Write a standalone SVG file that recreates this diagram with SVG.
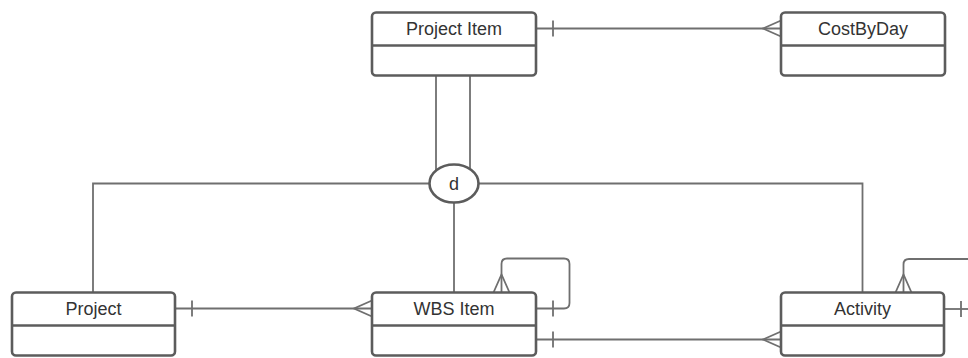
<svg xmlns="http://www.w3.org/2000/svg" width="968" height="358" viewBox="0 0 968 358">
  <style>
    .box { fill: #ffffff; stroke: #5c5c5c; stroke-width: 2.6; }
    .div { stroke: #5c5c5c; stroke-width: 2.6; }
    .conn { fill: none; stroke: #6f6f6f; stroke-width: 1.8; }
    .mk { fill: none; stroke: #6f6f6f; stroke-width: 1.8; }
    .lbl { font-family: "Liberation Sans", Arial, sans-serif; font-size: 18px; fill: #333333; text-anchor: middle; }
  </style>
  <defs>
    <!-- crow's foot (many); origin is at the entity edge, line interior lies on negative x -->
    <marker id="many" markerUnits="userSpaceOnUse" markerWidth="40" markerHeight="40" viewBox="-20 -20 40 40" refX="0" refY="0" orient="auto-start-reverse" overflow="visible">
      <path class="mk" d="M0 -8 L-18 0 L0 8"/>
    </marker>
    <!-- single bar (one) -->
    <marker id="one" markerUnits="userSpaceOnUse" markerWidth="40" markerHeight="40" viewBox="-20 -20 40 40" refX="0" refY="0" orient="auto-start-reverse" overflow="visible">
      <path class="mk" d="M-17 -8 V8"/>
    </marker>
  </defs>

  <g id="connectors">
    <!-- Project Item to CostByDay -->
    <path class="conn" d="M536 28.5 H781" marker-start="url(#one)" marker-end="url(#many)"/>
    <!-- Project Item down to disjoint subtype circle (double line) -->
    <path class="conn" d="M436 76 V183"/>
    <path class="conn" d="M470 76 V183"/>
    <!-- subtype branches -->
    <path class="conn" d="M93 293 V183.5 H862.5 V293"/>
    <path class="conn" d="M454 183.5 V293"/>
    <!-- Project to WBS Item -->
    <path class="conn" d="M175 308.5 H372" marker-start="url(#one)" marker-end="url(#many)"/>
    <!-- WBS Item recursive relationship -->
    <path class="conn" d="M536 308.5 H564 Q569.5 308.5 569.5 303 V264 Q569.5 258.5 564 258.5 H507 Q501.5 258.5 501.5 264 V292.5" marker-start="url(#one)" marker-end="url(#many)"/>
    <!-- WBS Item to Activity -->
    <path class="conn" d="M536 339.5 H781" marker-start="url(#one)" marker-end="url(#many)"/>
    <!-- Activity outgoing relationships -->
    <path class="conn" d="M903.5 292.5 V264.5 Q903.5 259 909 259 H968" marker-start="url(#many)"/>
    <path class="conn" d="M944 309 H968" marker-start="url(#one)"/>
  </g>

  <g id="subtype-d">
    <ellipse cx="454" cy="183.5" rx="24.5" ry="19" fill="#ffffff" stroke="#5c5c5c" stroke-width="2.6"/>
    <text class="lbl" x="454" y="190">d</text>
  </g>

  <g id="project-item">
    <rect class="box" x="372" y="12.5" width="164" height="63" rx="4"/>
    <line class="div" x1="372" y1="45.5" x2="536" y2="45.5"/>
    <text class="lbl" x="454" y="35">Project Item</text>
  </g>

  <g id="cost-by-day">
    <rect class="box" x="781" y="12.5" width="164" height="63" rx="4"/>
    <line class="div" x1="781" y1="45.5" x2="945" y2="45.5"/>
    <text class="lbl" x="863" y="35">CostByDay</text>
  </g>

  <g id="project">
    <rect class="box" x="12" y="292.5" width="163" height="63" rx="4"/>
    <line class="div" x1="12" y1="325.5" x2="175" y2="325.5"/>
    <text class="lbl" x="93.5" y="314.5">Project</text>
  </g>

  <g id="wbs-item">
    <rect class="box" x="372" y="292.5" width="164" height="63" rx="4"/>
    <line class="div" x1="372" y1="325.5" x2="536" y2="325.5"/>
    <text class="lbl" x="454" y="314.5">WBS Item</text>
  </g>

  <g id="activity">
    <rect class="box" x="781" y="292.5" width="163" height="63" rx="4"/>
    <line class="div" x1="781" y1="325.5" x2="944" y2="325.5"/>
    <text class="lbl" x="862.5" y="314.5">Activity</text>
  </g>
</svg>
